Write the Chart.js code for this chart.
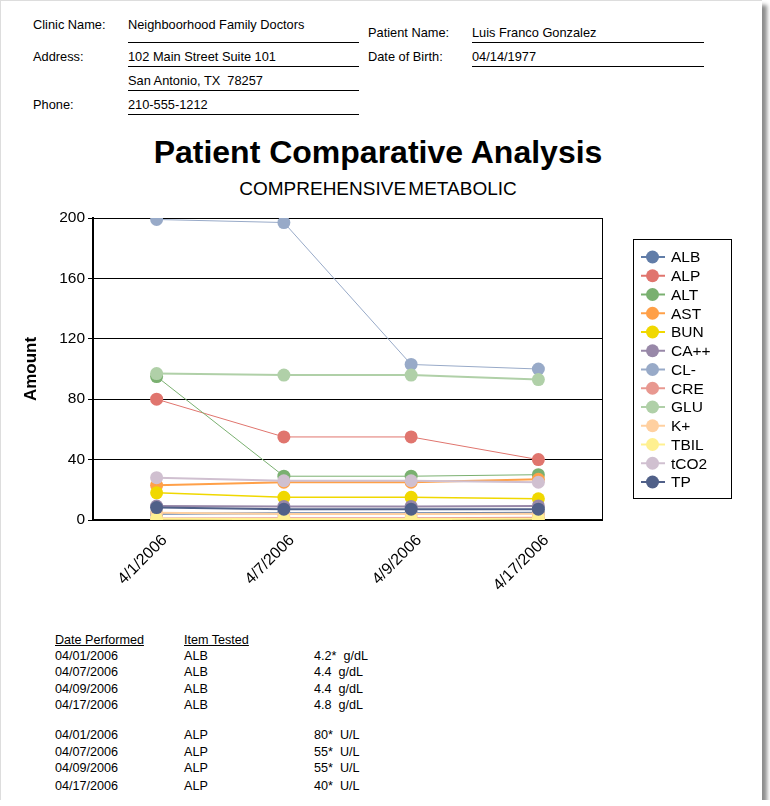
<!DOCTYPE html>
<html>
<head>
<meta charset="utf-8">
<script src="https://cdn.jsdelivr.net/npm/chart.js@4"></script>
<style>
  body { margin: 0; background: #fff; font-family: "Liberation Sans", Arial, sans-serif; }
  #page { position: relative; width: 762px; height: 800px; background: #fff;
          border-left: 1px solid #ddd; border-top: 1px solid #ddd; box-sizing: border-box;
          box-shadow: 5px 5px 4px rgba(0,0,0,0.45); overflow: hidden; }
  .t { position: absolute; font-size: 12.8px; line-height: 16px; white-space: pre; color: #000; }
  .u { position: absolute; height: 0; border-top: 1px solid #000; }
  #title { position: absolute; left: 0; width: 754px; top: 132px; text-align: center;
           font-size: 32px; font-weight: bold; line-height: 38px; }
  #subtitle { position: absolute; left: 0; width: 754px; top: 177px; text-align: center;
              font-size: 19px; line-height: 22px; word-spacing: -3px; }
  #chart { position: absolute; left: 0; top: 199px; }
  .tb { position: absolute; font-size: 12.6px; line-height: 16px; white-space: pre; }
</style>
</head>
<body>
<div id="page">
  <div class="t" style="left:32px;top:16px">Clinic Name:</div>
  <div class="t" style="left:127px;top:16px">Neighboorhood Family Doctors</div>
  <div class="u" style="left:127px;top:41px;width:231px"></div>
  <div class="t" style="left:32px;top:48px">Address:</div>
  <div class="t" style="left:127px;top:48px">102 Main Street Suite 101</div>
  <div class="u" style="left:127px;top:65px;width:231px"></div>
  <div class="t" style="left:127px;top:72px">San Antonio, TX  78257</div>
  <div class="u" style="left:127px;top:89px;width:231px"></div>
  <div class="t" style="left:32px;top:96px">Phone:</div>
  <div class="t" style="left:127px;top:96px">210-555-1212</div>
  <div class="u" style="left:127px;top:113px;width:231px"></div>

  <div class="t" style="left:367px;top:24px">Patient Name:</div>
  <div class="t" style="left:471px;top:24px">Luis Franco Gonzalez</div>
  <div class="u" style="left:471px;top:41px;width:232px"></div>
  <div class="t" style="left:367px;top:48px">Date of Birth:</div>
  <div class="t" style="left:471px;top:48px">04/14/1977</div>
  <div class="u" style="left:471px;top:65px;width:232px"></div>

  <div id="title">Patient Comparative Analysis</div>
  <div id="subtitle">COMPREHENSIVE METABOLIC</div>

  <canvas id="chart" width="770" height="411"></canvas>

  <div id="table"></div>
</div>
<script>
// --- Chart data ---
const dates = ["4/1/2006", "4/7/2006", "4/9/2006", "4/17/2006"];
const tests = ["ALB", "ALP", "ALT", "AST", "BUN", "CA++", "CL-", "CRE", "GLU", "K+", "TBIL", "tCO2", "TP"];

const ALB  = [4.2, 4.4, 4.4, 4.8];
const ALP  = [80, 55, 55, 40];
const ALT  = [95, 29, 29, 30];
const AST  = [23, 25, 25, 27];
const BUN  = [18, 15, 15, 14];
const CA   = [9.2, 9.0, 9.0, 9.3];
const CL   = [199, 197, 103, 100];
const CRE  = [1.0, 1.1, 1.1, 1.5];
const GLU  = [97, 96, 96, 93];
const K    = [4.8, 4.0, 4.0, 4.2];
const TBIL = [0.8, 0.6, 0.6, 0.9];
const TCO2 = [28, 26, 26, 25];
const TP   = [8.2, 7.2, 7.2, 7.2];
const seriesValues = [ALB, ALP, ALT, AST, BUN, CA, CL, CRE, GLU, K, TBIL, TCO2, TP];

const yTicks = [0, 40, 80, 120, 160, 200];

// table rows below the chart
const tableDates = ["04/01/2006", "04/07/2006", "04/09/2006", "04/17/2006"];
const albResults = ["4.2*  g/dL", "4.4  g/dL", "4.4  g/dL", "4.8  g/dL"];
const alpResults = ["80*  U/L", "55*  U/L", "55*  U/L", "40*  U/L"];

// --- Styles ---
const colors = ["#617da8", "#e0756e", "#7ab070", "#ffa048", "#f0d800", "#9888a8", "#98aac8",
                "#e89890", "#b0d0a8", "#ffd0a0", "#fff090", "#d0c0d0", "#506088"];
const widths = [2, 1, 1, 2, 1.5, 2, 1, 2, 2, 2, 2, 2, 2];
const FONT = "'Liberation Sans', Arial, sans-serif";

// --- Table ---
(function buildTable() {
  const el = document.getElementById("table");
  let html = '<div class="tb" style="left:54px;top:631px;text-decoration:underline">Date Performed</div>' +
             '<div class="tb" style="left:183px;top:631px;text-decoration:underline">Item Tested</div>';
  const rowsY = [[647, 663, 680, 696], [726, 743, 759, 777]];
  [["ALB", albResults], ["ALP", alpResults]].forEach(([name, res], g) => {
    tableDates.forEach((d, i) => {
      const y = rowsY[g][i];
      html += `<div class="tb" style="left:54px;top:${y}px">${d}</div>` +
              `<div class="tb" style="left:183px;top:${y}px">${name}</div>` +
              `<div class="tb" style="left:313px;top:${y}px">${res[i]}</div>`;
    });
  });
  el.innerHTML = html;
})();

// --- Plugins: plot frame + boxed legend with line-and-dot markers ---
const framePlugin = {
  id: "frame",
  afterDatasetsDraw(chart) {
    const { ctx, chartArea: a } = chart;
    ctx.save();
    ctx.strokeStyle = "#000";
    ctx.lineWidth = 1;
    ctx.beginPath();
    ctx.moveTo(a.right + 0.5, a.top);
    ctx.lineTo(a.right + 0.5, a.bottom);
    ctx.stroke();
    ctx.restore();
  }
};

const legendPlugin = {
  id: "boxLegend",
  afterDraw(chart) {
    const { ctx } = chart;
    const left = 632, top = 39, w = 98, h = 259, step = 18.75, firstY = 57;
    ctx.save();
    ctx.strokeStyle = "#000";
    ctx.lineWidth = 1;
    ctx.strokeRect(left + 0.5, top + 0.5, w, h);
    ctx.font = "15.5px " + FONT;
    ctx.textBaseline = "middle";
    ctx.fillStyle = "#000";
    chart.data.datasets.forEach((ds, i) => {
      const y = firstY + i * step;
      ctx.strokeStyle = ds.borderColor;
      ctx.lineWidth = 2;
      ctx.beginPath();
      ctx.moveTo(640, y);
      ctx.lineTo(664, y);
      ctx.stroke();
      ctx.fillStyle = ds.borderColor;
      ctx.beginPath();
      ctx.arc(651.5, y, 6.5, 0, Math.PI * 2);
      ctx.fill();
      ctx.fillStyle = "#000";
      ctx.fillText(ds.label, 670, y + 1);
    });
    ctx.restore();
  }
};

// --- Chart.js setup ---
const ctx = document.getElementById("chart").getContext("2d");
const n = tests.length;

const chart = new Chart(ctx, {
  type: "line",
  data: {
    labels: dates,
    datasets: tests.map((t, i) => ({
      label: t,
      data: seriesValues[i],
      borderColor: colors[i],
      backgroundColor: colors[i],
      borderWidth: widths[i],
      pointRadius: 6.5,
      pointBorderWidth: 0,
      pointHoverRadius: 6.5,
      tension: 0,
      fill: false,
      order: n - i
    }))
  },
  options: {
    responsive: false,
    animation: false,
    devicePixelRatio: 1,
    layout: { padding: { left: 16, right: 169, top: 18, bottom: 0 } },
    plugins: {
      legend: { display: false },
      tooltip: { enabled: false }
    },
    scales: {
      x: {
        offset: true,
        grid: { display: false },
        border: { display: true, color: "#000", width: 2 },
        ticks: {
          color: "#000",
          font: { family: FONT, size: 16 },
          maxRotation: 45,
          minRotation: 45,
          padding: 3,
          labelOffset: 8
        },
        afterFit: (scale) => { scale.height = 91; }
      },
      y: {
        min: 0,
        max: 200,
        afterBuildTicks: (scale) => { scale.ticks = yTicks.map(v => ({ value: v })); },
        grid: { color: "#000", lineWidth: 1, tickLength: 5 },
        border: { display: true, color: "#000", width: 2 },
        ticks: {
          color: "#000",
          font: { family: FONT, size: 15.5 },
          padding: 3
        },
        title: {
          display: true,
          text: "Amount",
          color: "#000",
          font: { family: FONT, size: 17, weight: "bold" }
        },
        afterFit: (scale) => { scale.width = 76; }
      }
    }
  },
  plugins: [framePlugin, legendPlugin]
});
</script>
</body>
</html>
